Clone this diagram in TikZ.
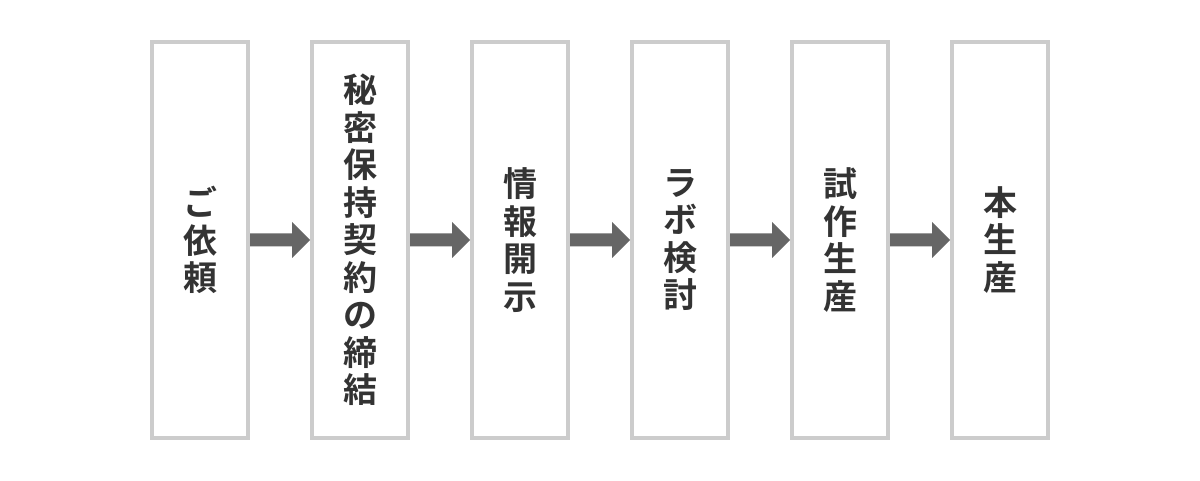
\documentclass[tikz,border=0pt]{standalone}
\usepackage{fontspec}
\setmainfont{Noto Sans CJK JP}[BoldFont={* Bold}]
\usetikzlibrary{calc}
\definecolor{boxc}{HTML}{CCCCCC}
\definecolor{txtc}{HTML}{333333}
\definecolor{arrc}{HTML}{666666}
\tikzset{
  stepbox/.style={draw=boxc, line width=4pt, fill=white, minimum width=96pt, minimum height=396pt,
    inner sep=0pt, align=center, text=txtc, font=\fontsize{34pt}{37.5pt}\selectfont\bfseries},
  flowarrow/.style={fill=arrc}
}
\newcommand{\flowarr}[2]{%
  \fill[flowarrow] ($(#1.east)+(0,6.5)$) -- ($(#2.west)+(-18,6.5)$) -- ($(#2.west)+(-18,18)$)
    -- (#2.west) -- ($(#2.west)+(-18,-18)$) -- ($(#2.west)+(-18,-6.5)$) -- ($(#1.east)+(0,-6.5)$) -- cycle;}
\begin{document}
\begin{tikzpicture}[x=1pt,y=1pt]
\useasboundingbox (0,0) rectangle (1200,480);
\node[stepbox] (b1) at (200,240) {ご\\依\\頼};
\node[stepbox] (b2) at (360,240) {秘\\密\\保\\持\\契\\約\\の\\締\\結};
\node[stepbox] (b3) at (520,240) {情\\報\\開\\示};
\node[stepbox] (b4) at (680,240) {ラ\\ボ\\検\\討};
\node[stepbox] (b5) at (840,240) {試\\作\\生\\産};
\node[stepbox] (b6) at (1000,240) {本\\生\\産};
\flowarr{b1}{b2}
\flowarr{b2}{b3}
\flowarr{b3}{b4}
\flowarr{b4}{b5}
\flowarr{b5}{b6}
\end{tikzpicture}
\end{document}
